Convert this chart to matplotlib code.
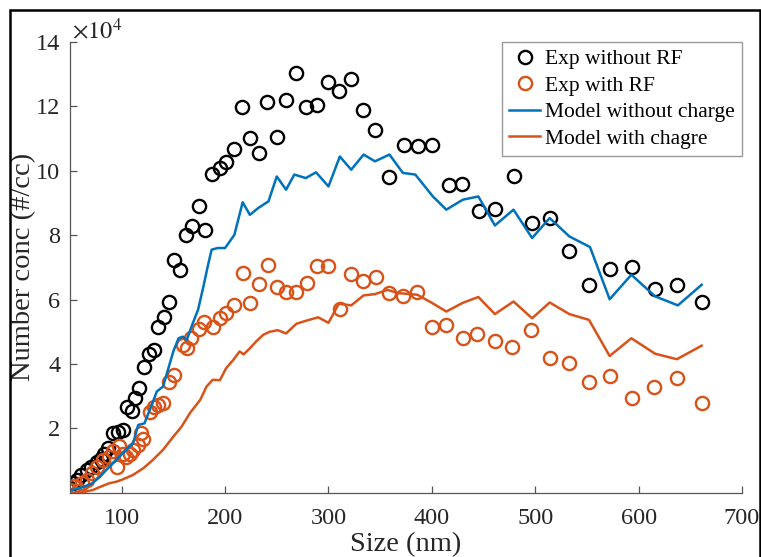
import numpy as np
import matplotlib
matplotlib.use('Agg')
import matplotlib.pyplot as plt
from matplotlib.patches import Rectangle

plt.rcParams['font.family'] = ['Liberation Serif', 'DejaVu Serif']
plt.rcParams['mathtext.fontset'] = 'stix'

# experiment without RF (size nm, conc x1e4 #/cc)
exp_norf_x = [50, 53, 57, 61, 66, 70, 76, 80, 83, 87, 92, 96, 101, 105, 110, 113, 117, 122, 126, 131,
              135, 141, 146, 151, 156, 162, 168, 175, 181, 187, 195, 201, 209, 216, 224, 233, 241, 250,
              259, 269, 278, 289, 300, 310, 322, 333, 345, 359, 373, 387, 400, 417, 429, 446, 461, 479,
              497, 514, 533, 552, 572, 594, 616, 637, 661]
exp_norf_y = [0.15, 0.3, 0.4, 0.55, 0.7, 0.8, 0.95, 1.05, 1.2, 1.39, 1.87, 1.9, 1.96, 2.68, 2.53, 2.94,
              3.25, 3.9, 4.32, 4.44, 5.15, 5.45, 5.93, 7.22, 6.92, 8.01, 8.27, 8.9, 8.17, 9.9, 10.08,
              10.26, 10.67, 11.98, 11.02, 10.55, 12.13, 11.05, 12.2, 13.03, 11.98, 12.05, 12.75, 12.46,
              12.85, 11.87, 11.27, 9.8, 10.79, 10.78, 10.8, 9.55, 9.6, 8.75, 8.8, 9.85, 8.39, 8.54, 7.5,
              6.46, 6.95, 7.02, 6.33, 6.46, 5.94]

# experiment with RF
exp_rf_x = [50, 54, 58, 62, 66, 71, 76, 82, 88, 92, 95, 97, 101, 104, 108, 111, 116, 119, 121, 127,
            131, 135, 140, 146, 151, 159, 163, 167, 175, 180, 188, 195, 201, 209, 217, 224, 233, 242,
            250, 259, 269, 279, 289, 300, 311, 322, 333, 346, 359, 372, 386, 400, 414, 430, 444, 461,
            478, 496, 514, 533, 552, 572, 594, 615, 637, 661]
exp_rf_y = [0.1, 0.2, 0.05, 0.3, 0.4, 0.61, 0.82, 1.02, 1.13, 1.3, 0.82, 1.47, 1.2, 1.13, 1.21, 1.34,
            1.5, 1.86, 1.67, 2.52, 2.67, 2.73, 2.8, 3.43, 3.66, 4.6, 4.49, 4.8, 5.08, 5.32, 5.15, 5.42,
            5.58, 5.84, 6.82, 5.89, 6.48, 7.08, 6.39, 6.22, 6.22, 6.53, 7.03, 7.03, 5.7, 6.8, 6.59, 6.7,
            6.2, 6.1, 6.25, 5.15, 5.22, 4.8, 4.94, 4.7, 4.54, 5.06, 4.18, 4.03, 3.43, 3.64, 2.94, 3.28,
            3.56, 2.79]

# model without charge
mod_nc_x = [50, 56, 63, 71, 79, 85, 93, 101, 106, 111, 116, 122, 129, 134, 140, 145, 150, 155, 159,
            163, 168, 174, 179, 183, 187, 193, 200, 209, 217, 224, 232, 242, 250, 259, 267, 278, 288,
            300, 311, 322, 334, 345, 359, 372, 384, 401, 414, 430, 445, 461, 479, 497, 514, 533, 553,
            572, 593, 616, 638, 661]
mod_nc_y = [0.08, 0.12, 0.19, 0.29, 0.5, 0.71, 0.97, 1.23, 1.4, 1.54, 2.11, 2.16, 2.73, 3.15, 3.3,
            3.85, 4.4, 4.8, 4.85, 4.75, 5.2, 5.7, 6.4, 7.0, 7.55, 7.6, 7.6, 8.01, 9.02, 8.63, 8.84,
            9.05, 9.82, 9.41, 9.88, 9.77, 9.95, 9.51, 10.44, 10.03, 10.5, 10.29, 10.5, 9.93, 9.88,
            9.2, 8.79, 9.1, 9.2, 8.3, 8.79, 7.91, 8.53, 7.96, 7.63, 6.01, 6.77, 6.1, 5.82, 6.46]

# model with charge
mod_c_x = [50, 62, 72, 80, 88, 95, 101, 111, 121, 130, 140, 150, 158, 166, 176, 182, 188, 195, 201,
           208, 214, 218, 224, 230, 237, 243, 251, 259, 269, 279, 290, 300, 310, 322, 334, 345, 357,
           368, 386, 400, 414, 430, 445, 461, 479, 497, 514, 533, 552, 572, 593, 616, 637, 661]
mod_c_y = [0.0, 0.02, 0.09, 0.2, 0.3, 0.35, 0.42, 0.56, 0.77, 1.02, 1.34, 1.75, 2.06, 2.48, 2.89,
           3.3, 3.51, 3.5, 3.87, 4.13, 4.39, 4.3, 4.49, 4.7, 4.91, 5.0, 5.05, 4.95, 5.25, 5.35, 5.45,
           5.28, 5.87, 5.82, 6.13, 6.17, 6.3, 6.2, 6.15, 5.9, 5.63, 5.9, 6.08, 5.55, 5.94, 5.42, 5.91,
           5.55, 5.37, 4.25, 4.8, 4.32, 4.15, 4.57]

blue = '#0072BD'
orange = '#D95319'
axcol = '#555555'
txtcol = '#262626'

fig = plt.figure(figsize=(7.61, 5.57), dpi=100)
ax = fig.add_axes([0.092, 0.115, 0.883, 0.81])

ax.plot(exp_norf_x, exp_norf_y, 'o', mfc='none', mec='black', ms=9.5, mew=1.7, label='Exp without RF')
ax.plot(exp_rf_x, exp_rf_y, 'o', mfc='none', mec=orange, ms=9.5, mew=1.7, label='Exp with RF')
ax.plot(mod_nc_x, mod_nc_y, '-', color=blue, lw=1.8, label='Model without charge')
ax.plot(mod_c_x, mod_c_y, '-', color=orange, lw=1.8, label='Model with chagre')

ax.set_xlim(50, 700)
ax.set_ylim(0, 14)
ax.set_xticks(range(100, 701, 100))
ax.set_yticks(range(2, 15, 2))
for s in ['top', 'right']:
    ax.spines[s].set_visible(False)
for s in ['left', 'bottom']:
    ax.spines[s].set_color(axcol)
    ax.spines[s].set_linewidth(0.9)
ax.tick_params(direction='in', length=5, width=0.9, color=axcol, labelsize=17.5,
               labelcolor=txtcol)
ax.tick_params(axis='x', pad=11)
ax.tick_params(axis='y', pad=7)

ax.set_xlabel('Size (nm)', fontsize=20.5, color=txtcol, labelpad=2)
ax.set_ylabel('Number conc (#/cc)', fontsize=20.5, color=txtcol, labelpad=0)
ax.text(0.003, 0.995, r'$\times10^{4}$', transform=ax.transAxes, fontsize=17.5,
        color=txtcol, ha='left', va='bottom')

leg = ax.legend(loc='upper right', bbox_to_anchor=(1.0, 1.0), borderaxespad=0, fontsize=15.5,
                fancybox=False, edgecolor='#999999', handlelength=1.45, handletextpad=0.2,
                labelspacing=0.3, borderpad=0.35, framealpha=1)
leg.get_frame().set_linewidth(1.0)

# outer frame of the figure
fig.patches.append(Rectangle((10 / 761, -0.02), 750 / 761, 1 - 10 / 557 + 0.02,
                             transform=fig.transFigure, fill=False, lw=1.8, ec='black'))

fig.savefig('out.png', dpi=100)
